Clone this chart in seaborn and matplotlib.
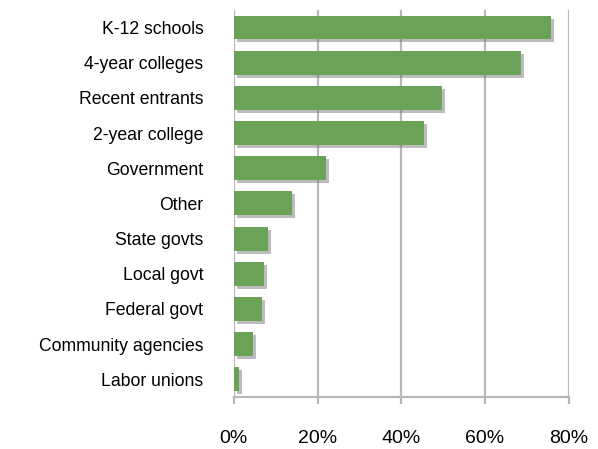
import matplotlib
matplotlib.use("Agg")
import matplotlib.pyplot as plt
import matplotlib.patheffects as pe
from matplotlib.ticker import PercentFormatter
import seaborn as sns
import pandas as pd

categories = ["K-12 schools", "4-year colleges", "Recent entrants", "2-year college",
              "Government", "Other", "State govts", "Local govt", "Federal govt",
              "Community agencies", "Labor unions"]
values = [75.8, 68.5, 49.8, 45.4, 22.0, 13.9, 8.1, 7.2, 6.7, 4.6, 1.3]
xticks = [0, 20, 40, 60, 80]

df = pd.DataFrame({"category": categories, "value": values})

sns.set_theme(style="white")
plt.rcParams["font.family"] = ["Liberation Sans", "DejaVu Sans"]

fig = plt.figure(figsize=(5.98, 4.49), dpi=100)
ax = fig.add_axes([0.391, 0.116, 0.56, 0.862])

sns.barplot(data=df, x="value", y="category", orient="h", color="#6aa358",
            saturation=1, width=0.68, ax=ax, zorder=3, linewidth=0, edgecolor="none")
for p in ax.patches:
    p.set_path_effects([pe.SimplePatchShadow(offset=(2.2, -2.2), shadow_rgbFace="#7a7a7a", alpha=0.5),
                        pe.Normal()])

ax.set_xlim(0, 80)
ax.set_ylim(len(categories) - 0.5, -0.5)
ax.set_xticks(xticks)
ax.xaxis.set_major_formatter(PercentFormatter(decimals=0))
ax.grid(axis="x", color="#b8b8b8", linewidth=1.6, zorder=0)
ax.grid(axis="y", visible=False)
ax.set_axisbelow(True)
for s in ["top", "right", "left"]:
    ax.spines[s].set_visible(False)
ax.spines["bottom"].set_color("#b8b8b8")
ax.spines["bottom"].set_linewidth(1.6)
ax.tick_params(axis="x", bottom=True, length=5, width=1.6, color="#b8b8b8",
               pad=19, labelsize=14, labelcolor="black")
ax.tick_params(axis="y", left=False, length=0, pad=22, labelsize=12.7, labelcolor="black")
ax.set_xlabel("")
ax.set_ylabel("")

fig.savefig("out.png", dpi=100)
